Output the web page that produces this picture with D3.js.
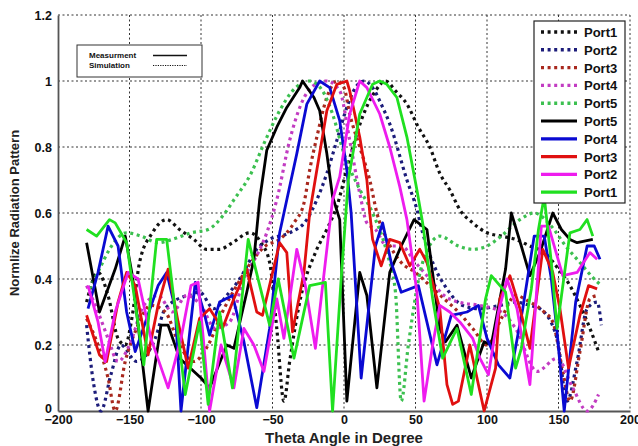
<!DOCTYPE html>
<html>
<head>
<meta charset="utf-8">
<script src="https://cdn.jsdelivr.net/npm/d3@7"></script>
<style>
  body { margin: 0; background: #fff; }
  text { font-family: "Liberation Sans", Arial, sans-serif; font-weight: bold; }
</style>
</head>
<body>
<svg id="chart"></svg>
<script>
/* data: [theta (deg), normalized pattern] */
const simPort1 = [[-180,0.33],[-172,0.42],[-165,0.35],[-158,0.22],[-153,0.2],[-148,0.29],[-143,0.45],[-134,0.54],[-124,0.58],[-115,0.55],[-105,0.52],[-96,0.49],[-87,0.49],[-78,0.51],[-66,0.54],[-58,0.51],[-52,0.45],[-47,0.25],[-42,0.03],[-38,0.15],[-30,0.35],[-20,0.48],[-12,0.55],[-5,0.62],[3,0.75],[12,0.88],[22,0.97],[29,1.0],[36,0.97],[44,0.93],[52,0.86],[60,0.8],[67,0.72],[74,0.67],[81,0.61],[90,0.57],[100,0.54],[110,0.53],[120,0.52],[130,0.5],[140,0.48],[150,0.43],[158,0.38],[165,0.32],[172,0.25],[178,0.18]];
const simPort2 = [[-180,0.26],[-175,0.08],[-170,0.0],[-163,0.11],[-156,0.2],[-145,0.15],[-132,0.22],[-125,0.31],[-110,0.35],[-101,0.36],[-91,0.31],[-82,0.35],[-73,0.4],[-61,0.49],[-52,0.52],[-38,0.54],[-26,0.58],[-19,0.64],[-12,0.72],[-5,0.82],[2,0.92],[8,0.98],[14,1.0],[20,0.98],[26,0.93],[32,0.87],[44,0.7],[51,0.61],[55,0.54],[63,0.44],[72,0.37],[83,0.32],[95,0.31],[109,0.32],[120,0.33],[130,0.32],[137,0.31],[149,0.22],[156,0.03],[163,0.15],[170,0.31],[177,0.33],[180,0.26]];
const simPort3 = [[-180,0.28],[-172,0.2],[-165,0.1],[-160,0.0],[-153,0.15],[-145,0.25],[-135,0.32],[-125,0.3],[-115,0.2],[-105,0.15],[-95,0.2],[-85,0.3],[-75,0.38],[-65,0.45],[-55,0.5],[-45,0.52],[-35,0.57],[-28,0.63],[-24,0.73],[-19,0.83],[-12,0.95],[-5,1.0],[0,0.98],[4,0.9],[11,0.8],[18,0.7],[23,0.6],[30,0.52],[40,0.45],[50,0.42],[60,0.38],[70,0.34],[80,0.3],[90,0.25],[100,0.2],[110,0.28],[120,0.35],[130,0.33],[140,0.3],[146,0.27],[153,0.12],[158,0.03],[165,0.18],[172,0.34],[177,0.35]];
const simPort4 = [[-180,0.38],[-172,0.3],[-165,0.22],[-158,0.15],[-150,0.2],[-140,0.32],[-130,0.35],[-120,0.3],[-110,0.35],[-100,0.32],[-90,0.25],[-80,0.27],[-70,0.4],[-60,0.48],[-54,0.54],[-47,0.64],[-38,0.82],[-30,0.93],[-20,0.99],[-12,1.0],[-3,0.97],[4,0.82],[11,0.66],[16,0.57],[22,0.55],[30,0.5],[40,0.5],[50,0.45],[60,0.4],[70,0.35],[80,0.33],[95,0.32],[110,0.3],[120,0.25],[135,0.12],[149,0.16],[160,0.07],[170,0.0],[178,0.05]];
const simPort5 = [[-178,0.37],[-171,0.43],[-164,0.49],[-152,0.54],[-142,0.53],[-130,0.51],[-120,0.52],[-107,0.54],[-95,0.55],[-85,0.59],[-77,0.64],[-65,0.72],[-56,0.81],[-45,0.91],[-36,0.97],[-24,1.0],[-15,0.97],[-8,0.9],[0,0.78],[10,0.68],[20,0.6],[30,0.48],[36,0.36],[40,0.03],[45,0.2],[55,0.45],[67,0.53],[80,0.5],[90,0.49],[100,0.5],[110,0.53],[123,0.58],[133,0.6],[145,0.56],[155,0.5],[165,0.45],[175,0.4],[180,0.38]];

const measPort5 = [[-180,0.51],[-171,0.3],[-160,0.43],[-153,0.53],[-148,0.41],[-137,0.0],[-128,0.26],[-123,0.26],[-115,0.16],[-100,0.1],[-94,0.07],[-82,0.2],[-77,0.19],[-68,0.36],[-63,0.46],[-59,0.64],[-54,0.79],[-47,0.86],[-40,0.92],[-31,0.98],[-29,1.0],[-21,0.95],[-17,0.91],[-12,0.78],[-8,0.65],[-3,0.58],[2,0.03],[11,0.42],[16,0.35],[23,0.07],[32,0.42],[40,0.5],[49,0.58],[58,0.55],[67,0.25],[71,0.21],[79,0.26],[89,0.1],[98,0.21],[103,0.2],[113,0.43],[117,0.6],[124,0.5],[130,0.41],[137,0.48],[146,0.6],[152,0.55],[158,0.52],[163,0.51],[174,0.52]];
const measPort4 = [[-179,0.31],[-172,0.42],[-165,0.56],[-158,0.5],[-152,0.3],[-146,0.18],[-138,0.28],[-130,0.38],[-124,0.42],[-118,0.31],[-114,0.0],[-104,0.39],[-98,0.3],[-94,0.23],[-87,0.33],[-78,0.35],[-70,0.21],[-61,0.01],[-52,0.25],[-45,0.54],[-40,0.64],[-33,0.78],[-26,0.93],[-17,1.0],[-10,0.98],[-3,0.88],[2,0.73],[5,0.6],[12,0.1],[22,0.5],[27,0.57],[33,0.45],[40,0.36],[52,0.38],[65,0.14],[75,0.29],[86,0.3],[94,0.32],[100,0.22],[108,0.14],[116,0.1],[125,0.31],[133,0.53],[140,0.53],[145,0.4],[149,0.24],[154,0.0],[162,0.33],[170,0.5],[175,0.5],[179,0.46]];
const measPort3 = [[-180,0.29],[-171,0.17],[-166,0.15],[-158,0.33],[-152,0.42],[-146,0.38],[-137,0.17],[-130,0.32],[-123,0.43],[-116,0.27],[-109,0.13],[-101,0.28],[-94,0.31],[-85,0.25],[-77,0.34],[-68,0.43],[-61,0.3],[-57,0.29],[-45,0.51],[-40,0.48],[-36,0.24],[-28,0.42],[-24,0.6],[-19,0.73],[-12,0.91],[-5,0.99],[2,1.0],[4,0.97],[11,0.83],[16,0.7],[18,0.6],[20,0.52],[26,0.44],[32,0.52],[39,0.51],[46,0.44],[53,0.49],[58,0.45],[67,0.31],[72,0.08],[76,0.02],[80,0.03],[88,0.2],[98,0.0],[106,0.13],[109,0.34],[116,0.41],[123,0.31],[130,0.19],[139,0.49],[146,0.42],[151,0.31],[157,0.13],[165,0.29],[171,0.38],[177,0.37]];
const measPort2 = [[-179,0.38],[-172,0.27],[-167,0.15],[-160,0.3],[-151,0.42],[-144,0.4],[-135,0.22],[-123,0.07],[-114,0.22],[-107,0.38],[-102,0.39],[-98,0.2],[-94,0.0],[-86,0.2],[-77,0.07],[-70,0.25],[-63,0.2],[-56,0.12],[-47,0.34],[-42,0.22],[-33,0.49],[-27,0.38],[-20,0.19],[-12,0.49],[-8,0.64],[-3,0.71],[4,0.9],[11,1.0],[16,0.98],[25,0.9],[32,0.8],[39,0.68],[44,0.58],[51,0.36],[56,0.03],[62,0.2],[67,0.32],[74,0.3],[81,0.27],[90,0.22],[95,0.16],[101,0.11],[108,0.3],[114,0.4],[121,0.31],[130,0.08],[138,0.56],[143,0.56],[153,0.41],[163,0.42],[172,0.48],[177,0.46]];
const measPort1 = [[-180,0.55],[-173,0.53],[-164,0.58],[-160,0.57],[-152,0.51],[-140,0.14],[-131,0.52],[-124,0.52],[-111,0.05],[-101,0.27],[-95,0.02],[-87,0.3],[-78,0.07],[-67,0.52],[-52,0.26],[-46,0.4],[-35,0.16],[-24,0.38],[-13,0.39],[-8,0.0],[-2,0.4],[3,0.7],[11,0.9],[20,0.99],[25,1.0],[30,0.99],[37,0.95],[44,0.83],[51,0.67],[55,0.57],[62,0.34],[69,0.16],[79,0.25],[89,0.05],[99,0.34],[103,0.41],[113,0.36],[120,0.13],[124,0.19],[131,0.37],[136,0.55],[140,0.65],[145,0.45],[149,0.25],[158,0.54],[165,0.55],[170,0.58],[174,0.53]];

const xTicks = [-200, -150, -100, -50, 0, 50, 100, 150, 200];
const yTicks = [0, 0.2, 0.4, 0.6, 0.8, 1, 1.2];

/* legend order = drawing order */
const series = [
  { name: "Port1", data: simPort1, color: "#111111", dotted: true },
  { name: "Port2", data: simPort2, color: "#1c1c7a", dotted: true },
  { name: "Port3", data: simPort3, color: "#a8281e", dotted: true },
  { name: "Port4", data: simPort4, color: "#c23cc2", dotted: true },
  { name: "Port5", data: simPort5, color: "#3cc050", dotted: true },
  { name: "Port5", data: measPort5, color: "#000000", dotted: false },
  { name: "Port4", data: measPort4, color: "#0a0ad2", dotted: false },
  { name: "Port3", data: measPort3, color: "#e01010", dotted: false },
  { name: "Port2", data: measPort2, color: "#ee1cee", dotted: false },
  { name: "Port1", data: measPort1, color: "#20e020", dotted: false }
];

const W = 638, H = 446,
  mLeft = 58, mRight = 630, mTop = 15, mBottom = 411;

const svg = d3.select("#chart").attr("width", W).attr("height", H);

const x = d3.scaleLinear().domain([-200, 200]).range([mLeft, mRight]);
const y = d3.scaleLinear().domain([0, 1.2]).range([mBottom, mTop]);

/* dotted grid */
const grid = svg.append("g");
grid.selectAll(".gx").data(xTicks.filter(d => d > -200)).join("line")
  .attr("x1", d => x(d)).attr("x2", d => x(d))
  .attr("y1", mTop).attr("y2", mBottom)
  .attr("stroke", "#333").attr("stroke-width", 1).attr("stroke-dasharray", "2,2.5");
grid.selectAll(".gy").data(yTicks.filter(d => d > 0)).join("line")
  .attr("x1", mLeft).attr("x2", mRight)
  .attr("y1", d => y(d)).attr("y2", d => y(d))
  .attr("stroke", "#333").attr("stroke-width", 1).attr("stroke-dasharray", "2,2.5");

/* axes */
const xAxis = svg.append("g")
  .attr("transform", "translate(0," + mBottom + ")")
  .call(d3.axisBottom(x).tickValues(xTicks).tickSize(0).tickPadding(4));
const yAxis = svg.append("g")
  .attr("transform", "translate(" + mLeft + ",0)")
  .call(d3.axisLeft(y).tickValues(yTicks).tickSize(0).tickPadding(6).tickFormat(d3.format("")));
[xAxis, yAxis].forEach(a => {
  a.select(".domain").attr("stroke", "#555").attr("stroke-width", 1.8);
  a.selectAll("text").attr("font-size", 12.5).attr("fill", "#111")
    .style("font-family", "'Liberation Sans', Arial, sans-serif").style("font-weight", "bold");
});
// the "0" of the y axis sits a little above the axis corner, as in the source
yAxis.selectAll(".tick text").filter(d => d === 0).attr("dy", "0.1em");

/* curves */
const line = d3.line().x(d => x(d[0])).y(d => y(d[1]));
const smooth = d3.line().x(d => x(d[0])).y(d => y(d[1])).curve(d3.curveMonotoneX);

svg.append("g").selectAll("path").data(series).join("path")
  .attr("d", d => d.dotted ? smooth(d.data) : line(d.data))
  .attr("fill", "none")
  .attr("stroke", d => d.color)
  .attr("stroke-width", d => d.dotted ? 3.2 : 2.8)
  .attr("stroke-dasharray", d => d.dotted ? "3,3.6" : null)
  .attr("stroke-linejoin", "round");

/* axis titles */
svg.append("text")
  .attr("x", x(0)).attr("y", 443)
  .attr("text-anchor", "middle").attr("font-size", 15).attr("fill", "#222")
  .text("Theta Angle in Degree");
svg.append("text")
  .attr("transform", "translate(19," + y(0.6) + ") rotate(-90)")
  .attr("text-anchor", "middle").attr("font-size", 13).attr("fill", "#222")
  .text("Normlize Radiation Pattern");

/* port legend */
const leg = svg.append("g");
leg.append("rect")
  .attr("x", 534).attr("y", 21).attr("width", 91).attr("height", 182)
  .attr("fill", "#fff").attr("stroke", "#222").attr("stroke-width", 1.2);
const items = leg.selectAll(".item").data(series).join("g")
  .attr("transform", (d, i) => "translate(0," + (32 + i * 17.8) + ")");
items.append("line")
  .attr("x1", 541).attr("x2", 577).attr("y1", 0).attr("y2", 0)
  .attr("stroke", d => d.color)
  .attr("stroke-width", d => d.dotted ? 3.4 : 3.2)
  .attr("stroke-dasharray", d => d.dotted ? "3,3.6" : null);
items.append("text")
  .attr("x", 584).attr("y", 5)
  .attr("font-size", 13).attr("fill", "#111")
  .text(d => d.name);

/* measurement / simulation legend */
const kinds = [
  { label: "Measurment", dash: null, width: 1.6 },
  { label: "Simulation", dash: "1.2,1.2", width: 1.2 }
];
const leg2 = svg.append("g");
leg2.append("rect")
  .attr("x", 77).attr("y", 45).attr("width", 125).attr("height", 32)
  .attr("fill", "#fff").attr("stroke", "#333").attr("stroke-width", 1);
const k = leg2.selectAll(".kind").data(kinds).join("g")
  .attr("transform", (d, i) => "translate(0," + (55 + i * 10) + ")");
k.append("text")
  .attr("x", 89).attr("y", 3)
  .attr("font-size", 8).attr("fill", "#111")
  .text(d => d.label);
k.append("line")
  .attr("x1", 153).attr("x2", 187).attr("y1", 0.5).attr("y2", 0.5)
  .attr("stroke", "#111").attr("stroke-width", d => d.width)
  .attr("stroke-dasharray", d => d.dash);
</script>
</body>
</html>
